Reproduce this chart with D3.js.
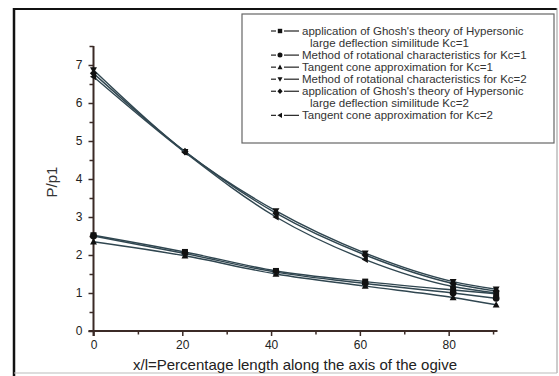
<!DOCTYPE html>
<html>
<head>
<meta charset="utf-8">
<script src="https://cdn.jsdelivr.net/npm/d3@7"></script>
<style>
  body { margin: 0; background: #fff; }
  svg { display: block; font-family: "Liberation Sans", Arial, sans-serif; }
</style>
</head>
<body>
<svg id="chart"></svg>
<script>
// x positions (percentage length along ogive axis)
const xValues = [0, 20.6, 41.1, 61.2, 81, 90.7];

// Kc = 1
const ghoshKc1 = [2.52, 2.08, 1.58, 1.30, 1.08, 0.98];
const rotKc1 = [2.50, 2.04, 1.55, 1.25, 1.00, 0.86];
const tangentKc1 = [2.35, 1.98, 1.50, 1.18, 0.88, 0.69];
// Kc = 2
const rotKc2 = [6.87, 4.72, 3.16, 2.05, 1.30, 1.10];
const ghoshKc2 = [6.78, 4.72, 3.10, 2.00, 1.25, 1.05];
const tangentKc2 = [6.69, 4.70, 3.00, 1.88, 1.17, 1.00];

const xTicks = [0, 20, 40, 60, 80];
const yTicks = [0, 1, 2, 3, 4, 5, 6, 7];

const legendRows = [
    ["application of Ghosh's theory of Hypersonic", "large deflection similitude Kc=1"],
    ["Method of rotational characteristics for Kc=1"],
    ["Tangent cone approximation for Kc=1"],
    ["Method of rotational characteristics for Kc=2"],
    ["application of Ghosh's theory of Hypersonic", "large deflection similitude Kc=2"],
    ["Tangent cone approximation for Kc=2"]
];

const series = [
    {values: ghoshKc1, symbol: 'square'},
    {values: rotKc1, symbol: 'circle'},
    {values: tangentKc1, symbol: 'up'},
    {values: rotKc2, symbol: 'down'},
    {values: ghoshKc2, symbol: 'diamond'},
    {values: tangentKc2, symbol: 'left'}
];

const width = 559, height = 376;
const svg = d3.select('#chart').attr('width', width).attr('height', height);

// outer frame
svg.append('line').attr('x1', 14).attr('x2', 14).attr('y1', 8).attr('y2', 376)
    .attr('stroke', '#111').attr('stroke-width', 2.5);
svg.append('line').attr('x1', 13).attr('x2', 557).attr('y1', 9).attr('y2', 9)
    .attr('stroke', '#111').attr('stroke-width', 2);
svg.append('line').attr('x1', 557).attr('x2', 557).attr('y1', 8).attr('y2', 373)
    .attr('stroke', '#999').attr('stroke-width', 1);
svg.append('line').attr('x1', 14).attr('x2', 557).attr('y1', 373).attr('y2', 373)
    .attr('stroke', '#bbb').attr('stroke-width', 1);

const x = d3.scaleLinear().domain([0, 91]).range([93.5, 497.5]);
const y = d3.scaleLinear().domain([0, 7.5]).range([331, 46]);

const axisColor = '#3b2a26';

// x axis
const xAxis = svg.append('g').attr('transform', `translate(0,${y(0)})`)
    .call(d3.axisBottom(x).tickValues(d3.range(0, 91, 10)).tickSize(5).tickFormat(d => xTicks.includes(d) ? d : ''));
xAxis.select('.domain').attr('stroke', axisColor).attr('stroke-width', 2).attr('d', `M${x(0) - 5},0H${x(91)}`);
xAxis.selectAll('.tick line').attr('stroke', axisColor).attr('stroke-width', 1.5)
    .attr('y2', d => xTicks.includes(d) ? 5 : 3.5);
xAxis.selectAll('.tick text').attr('fill', '#222').attr('font-size', 12).attr('dy', '0.85em');

// y axis
const yAxis = svg.append('g').attr('transform', `translate(${x(0)},0)`)
    .call(d3.axisLeft(y).tickValues(d3.range(0, 7.51, 0.5)).tickSize(5).tickFormat(d => yTicks.includes(d) ? d : ''));
yAxis.select('.domain').attr('stroke', axisColor).attr('stroke-width', 2).attr('d', `M0,${y(0) + 5}V${y(7.5)}`);
yAxis.selectAll('.tick line').attr('stroke', axisColor).attr('stroke-width', 1.5)
    .attr('x2', d => yTicks.includes(d) ? -5 : -4);
yAxis.selectAll('.tick text').attr('fill', '#222').attr('font-size', 12).attr('dx', '-0.25em');

// axis titles
svg.append('text').attr('x', 295).attr('y', 370).attr('text-anchor', 'middle')
    .attr('font-size', 15).attr('fill', '#222')
    .text('x/l=Percentage length along the axis of the ogive');
svg.append('text').attr('transform', 'translate(57,182) rotate(-90)').attr('text-anchor', 'middle')
    .attr('font-size', 15).attr('fill', '#333').text('P/p1');

// symbols
const symbolPath = (type, s) => {
    switch (type) {
        case 'square': return `M${-s},${-s}h${2 * s}v${2 * s}h${-2 * s}Z`;
        case 'circle': return d3.symbol(d3.symbolCircle, Math.PI * s * s * 1.3)();
        case 'up': return `M0,${-s * 1.2}L${s * 1.15},${s * 0.9}L${-s * 1.15},${s * 0.9}Z`;
        case 'down': return `M0,${s * 1.2}L${s * 1.15},${-s * 0.9}L${-s * 1.15},${-s * 0.9}Z`;
        case 'diamond': return `M0,${-s * 1.3}L${s * 1.2},0L0,${s * 1.3}L${-s * 1.2},0Z`;
        case 'left': return `M${-s * 1.2},0L${s * 0.9},${-s * 1.15}L${s * 0.9},${s * 1.15}Z`;
    }
};

const line = d3.line().x(d => x(d[0])).y(d => y(d[1])).curve(d3.curveMonotoneX);

series.forEach(s => {
    const pts = xValues.map((xv, i) => [xv, s.values[i]]);
    svg.append('path').datum(pts)
        .attr('fill', 'none').attr('stroke', '#304650').attr('stroke-width', 1.4)
        .attr('d', line);
    svg.append('g').selectAll('path').data(pts).join('path')
        .attr('transform', d => `translate(${x(d[0])},${y(d[1])})`)
        .attr('d', symbolPath(s.symbol, 3))
        .attr('fill', '#111');
});

// legend
const legend = svg.append('g');
legend.append('rect').attr('x', 242).attr('y', 14).attr('width', 312).attr('height', 129)
    .attr('fill', '#fff').attr('stroke', '#666').attr('stroke-width', 1.2);
let row = 0;
legendRows.forEach((lines, i) => {
    const cy = 31 + row * 12.05;
    legend.append('line').attr('x1', 271).attr('x2', 276).attr('y1', cy).attr('y2', cy)
        .attr('stroke', '#222').attr('stroke-width', 1.2);
    legend.append('line').attr('x1', 284).attr('x2', 299).attr('y1', cy).attr('y2', cy)
        .attr('stroke', '#222').attr('stroke-width', 1.2);
    legend.append('path').attr('transform', `translate(280,${cy})`)
        .attr('d', symbolPath(series[i].symbol, 2.2)).attr('fill', '#111');
    lines.forEach((t, j) => {
        legend.append('text').attr('x', j === 0 ? 302 : 310).attr('y', cy + j * 12.05)
            .attr('dy', '0.35em').attr('font-size', 11.5).attr('fill', '#333').text(t);
    });
    row += lines.length;
});
</script>
</body>
</html>
